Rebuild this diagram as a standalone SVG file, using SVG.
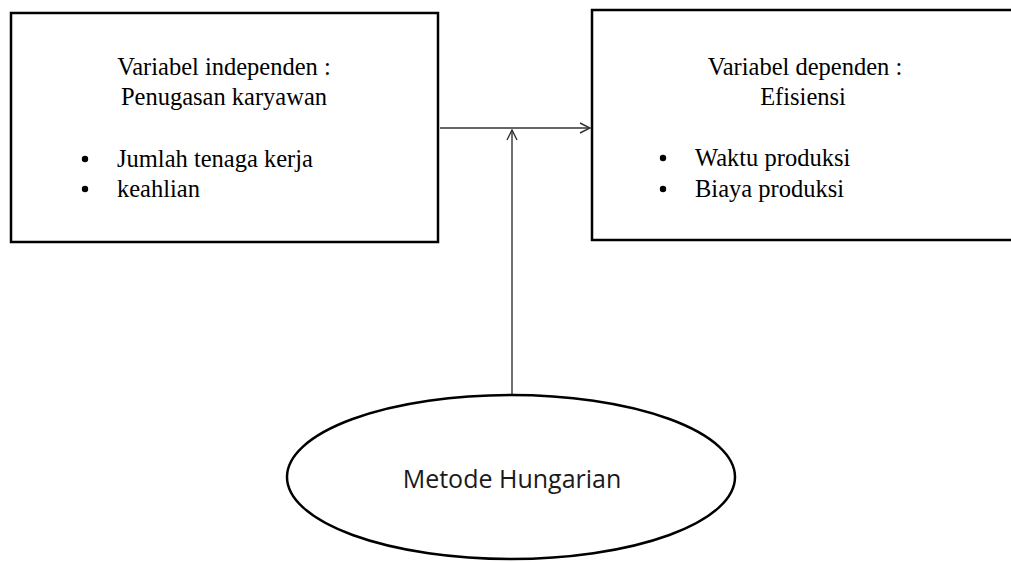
<svg xmlns="http://www.w3.org/2000/svg" width="1011" height="562" viewBox="0 0 1011 562">
  <style>
    .box { fill: #ffffff; stroke: #000000; stroke-width: 2.5; }
    .oval { fill: #ffffff; stroke: #000000; stroke-width: 2.5; }
    .serif { font-family: "Liberation Serif", "Times New Roman", serif; font-size: 24.5px; fill: #000000; }
    .sans { font-family: "Open Sans", "Noto Sans", sans-serif; font-size: 25px; fill: #1a1a1a; }
    .link { fill: none; stroke: #333333; stroke-width: 1.4; }
  </style>
  <defs>
    <marker id="open-arrow" viewBox="0 0 12 12" refX="11" refY="6" markerWidth="12" markerHeight="12" markerUnits="userSpaceOnUse" orient="auto">
      <path d="M1,1 L11,6 L1,11" fill="none" stroke="#333333" stroke-width="1.4"/>
    </marker>
  </defs>

  <rect width="1011" height="562" fill="#ffffff"/>

  <!-- connectors -->
  <g id="connectors">
    <line class="link" x1="440" y1="128" x2="590" y2="128" marker-end="url(#open-arrow)"/>
    <line class="link" x1="512" y1="395" x2="512" y2="130" marker-end="url(#open-arrow)"/>
  </g>

  <!-- independent variable -->
  <g id="node-independen">
    <rect class="box" x="11" y="13" width="427" height="229"/>
    <text class="serif" x="224" y="75" text-anchor="middle">Variabel independen :</text>
    <text class="serif" x="224" y="105" text-anchor="middle">Penugasan karyawan</text>
    <circle cx="85" cy="159" r="3.2" fill="#000000"/>
    <text class="serif" x="117" y="167">Jumlah tenaga kerja</text>
    <circle cx="85" cy="189" r="3.2" fill="#000000"/>
    <text class="serif" x="117" y="197">keahlian</text>
  </g>

  <!-- dependent variable -->
  <g id="node-dependen">
    <rect class="box" x="592" y="10" width="430" height="230"/>
    <text class="serif" x="805" y="75" text-anchor="middle">Variabel dependen :</text>
    <text class="serif" x="803" y="105" text-anchor="middle">Efisiensi</text>
    <circle cx="663" cy="158" r="3.2" fill="#000000"/>
    <text class="serif" x="695" y="166">Waktu produksi</text>
    <circle cx="663" cy="189" r="3.2" fill="#000000"/>
    <text class="serif" x="695" y="197">Biaya produksi</text>
  </g>

  <!-- method -->
  <g id="node-metode">
    <ellipse class="oval" cx="511" cy="477" rx="224" ry="82"/>
    <text class="sans" x="512" y="488" text-anchor="middle">Metode Hungarian</text>
  </g>
</svg>
